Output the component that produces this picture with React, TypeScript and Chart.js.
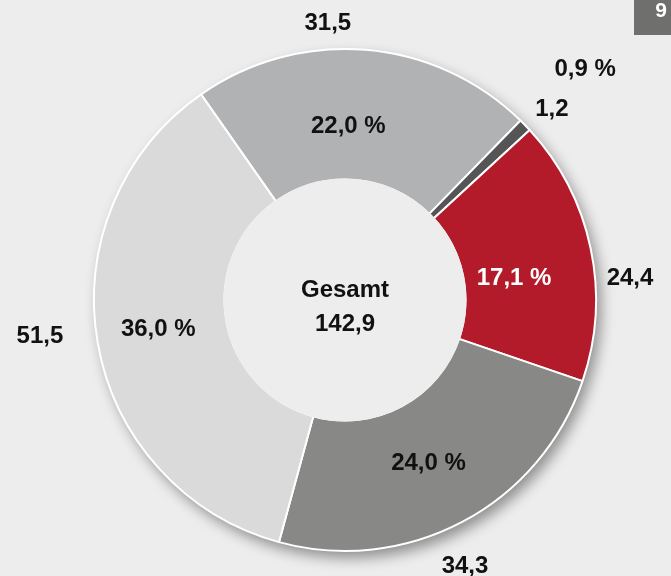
import React, { useEffect, useRef } from 'react';
import { Chart, registerables } from 'chart.js';

Chart.register(...registerables);

// ---- Data ----
const categories = ['Segment A', 'Segment B', 'Segment C', 'Segment D', 'Segment E'];
const values = [31.5, 1.2, 24.4, 34.3, 51.5];
const valueLabels = ['31,5', '1,2', '24,4', '34,3', '51,5'];
const percentLabels = ['22,0 %', '0,9 %', '17,1 %', '24,0 %', '36,0 %'];
const centerTitle = 'Gesamt';
const centerTotal = '142,9';
const pageNumber = '9';

// ---- Styles ----
const sliceColors = ['#b1b2b4', '#555555', '#b31b2a', '#888887', '#dadada'];
const percentTextColors = ['#111111', '#111111', '#ffffff', '#111111', '#111111'];
// label placement tweaks: [angle shift in degrees, radial distance]
// value labels: distance beyond the outer radius
const valueLabelShift = [[-8.2, 28], [1.1, 32], [7.1, 35], [3.5, 39], [3.5, 56]];
// percent labels: distance from the ring middle (outside=true: beyond outer radius)
const percentLabelShift = [[-3.6, -10], [0.1, 83], [3.8, -15], [0.6, -4], [1.5, 3]];
const percentOutside = [false, true, false, false, false];

const BG = '#ededed';
const FONT = 'bold 24px "Liberation Sans", Arial, sans-serif';
const DEG = Math.PI / 180;
const TEXT_DY = 2;

const decorPlugin = {
  id: 'decor',
  beforeDatasetsDraw(chart: any) {
    const meta = chart.getDatasetMeta(0);
    const arc = meta.data[0];
    if (!arc) return;
    const { x, y, outerRadius } = arc.getProps(['x', 'y', 'outerRadius'], true);
    const ctx = chart.ctx;
    ctx.save();
    ctx.shadowColor = 'rgba(0,0,0,0.4)';
    ctx.shadowBlur = 14;
    ctx.shadowOffsetX = 5;
    ctx.shadowOffsetY = 7;
    ctx.beginPath();
    ctx.arc(x, y, outerRadius, 0, Math.PI * 2);
    ctx.fillStyle = '#ffffff';
    ctx.fill();
    ctx.restore();
  },
  afterDatasetsDraw(chart: any) {
    const meta = chart.getDatasetMeta(0);
    const ctx = chart.ctx;
    const arcs = meta.data;
    if (!arcs.length) return;
    const { x, y, innerRadius } = arcs[0].getProps(['x', 'y', 'innerRadius'], true);

    // inner disc
    ctx.save();
    ctx.beginPath();
    ctx.arc(x, y, innerRadius + 1, 0, Math.PI * 2);
    ctx.fillStyle = BG;
    ctx.fill();

    ctx.font = FONT;
    ctx.textAlign = 'center';
    ctx.textBaseline = 'middle';

    // center labels
    ctx.fillStyle = '#111111';
    ctx.fillText(centerTitle, x, y - 10);
    ctx.fillText(centerTotal, x, y + 24);

    arcs.forEach((el: any, i: number) => {
      const p = el.getProps(['x', 'y', 'startAngle', 'endAngle', 'innerRadius', 'outerRadius'], true);
      const mid = (p.startAngle + p.endAngle) / 2;

      // value label outside
      const va = mid + valueLabelShift[i][0] * DEG;
      const vr = p.outerRadius + valueLabelShift[i][1];
      ctx.fillStyle = '#111111';
      ctx.fillText(valueLabels[i], p.x + Math.cos(va) * vr, p.y + Math.sin(va) * vr + TEXT_DY);

      // percent label
      const pa = mid + percentLabelShift[i][0] * DEG;
      const pr = percentOutside[i]
        ? p.outerRadius + percentLabelShift[i][1]
        : (p.innerRadius + p.outerRadius) / 2 + percentLabelShift[i][1];
      ctx.fillStyle = percentOutside[i] ? '#111111' : percentTextColors[i];
      ctx.fillText(percentLabels[i], p.x + Math.cos(pa) * pr, p.y + Math.sin(pa) * pr + TEXT_DY);
    });

    // page number box
    ctx.fillStyle = '#6f6f6e';
    ctx.fillRect(634, 0, 37, 35);
    ctx.fillStyle = '#ffffff';
    ctx.font = 'bold 21px "Liberation Sans", Arial, sans-serif';
    ctx.textBaseline = 'alphabetic';
    ctx.fillText(pageNumber, 661, 17);
    ctx.restore();
  },
};

export default function App() {
  const canvasRef = useRef<HTMLCanvasElement | null>(null);

  useEffect(() => {
    if (!canvasRef.current) return;
    const chart = new Chart(canvasRef.current, {
      type: 'doughnut',
      data: {
        labels: categories,
        datasets: [
          {
            data: values,
            backgroundColor: sliceColors,
            borderColor: '#ffffff',
            borderWidth: 2,
            hoverOffset: 0,
          },
        ],
      },
      options: {
        responsive: false,
        animation: false,
        devicePixelRatio: 1,
        rotation: -35,
        cutout: '48%',
        layout: { padding: { left: 93, right: 74, top: 48, bottom: 24 } },
        plugins: {
          legend: { display: false },
          tooltip: { enabled: false },
        },
        events: [],
      },
      plugins: [decorPlugin],
    } as any);
    return () => chart.destroy();
  }, []);

  return (
    <div
      style={{
        position: 'fixed',
        left: 0,
        top: 0,
        width: 671,
        height: 576,
        background: BG,
        overflow: 'hidden',
      }}
    >
      <canvas ref={canvasRef} width={671} height={576} style={{ display: 'block', width: 671, height: 576 }} />
    </div>
  );
}
